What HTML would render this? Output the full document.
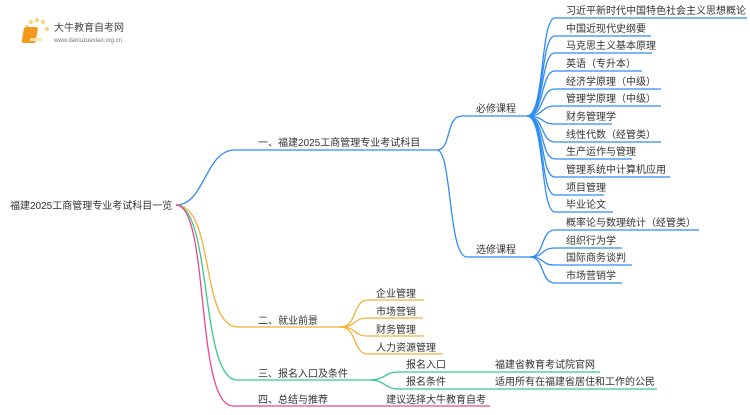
<!DOCTYPE html>
<html><head><meta charset="utf-8"><style>
body{margin:0;background:#fff;width:750px;height:410px;overflow:hidden}
svg text{font-family:"Liberation Sans","Noto Sans CJK SC",sans-serif;font-size:10px;fill:#333}
</style></head><body>
<svg width="750" height="410" viewBox="0 0 750 410" xmlns="http://www.w3.org/2000/svg">
<g>
<circle cx="27" cy="27" r="2" fill="#fbd27a"/><circle cx="31" cy="22" r="2" fill="#fbd27a"/><circle cx="37" cy="20" r="2" fill="#fbd27a"/><circle cx="43" cy="22" r="2" fill="#fbd27a"/><circle cx="24" cy="33" r="1.5" fill="#fbd27a"/><circle cx="47" cy="29" r="2" fill="#fbd27a"/>
<rect x="29" y="27" width="14" height="16" rx="2" fill="#f39a1e" transform="skewX(-10)"/>
<rect x="30" y="38" width="12" height="3" fill="#fde3b0"/>
<text x="54" y="31" style="font-size:10px;fill:#444">大牛教育自考网</text>
<text x="54" y="42" style="font-size:6px;fill:#777">www.daniuzuexiao.org.cn</text>
</g>
<g fill="none" stroke-width="1.3">
<g stroke="#2f8cf5">
<path d="M176,205 C205,205 205,150 235,150 L437,150"/>
<path d="M437,150 C452,150 445,116 462,116 L527,116"/>
<path d="M437,150 C452,150 448,257 467,257 L530,257"/>
<path d="M527,116 C545,116 540,18 555,18 L747,18"/>
<path d="M527,116 C545,116 540,36 555,36 L651,36"/>
<path d="M527,116 C545,116 540,53 555,53 L652,53"/>
<path d="M527,116 C545,116 540,71 555,71 L642,71"/>
<path d="M527,116 C545,116 540,89 555,89 L661,89"/>
<path d="M527,116 C545,116 540,106 555,106 L661,106"/>
<path d="M527,116 C545,116 540,124 555,124 L612,124"/>
<path d="M527,116 C545,116 540,142 555,142 L661,142"/>
<path d="M527,116 C545,116 540,159 555,159 L632,159"/>
<path d="M527,116 C545,116 540,177 555,177 L670,177"/>
<path d="M527,116 C545,116 540,195 555,195 L604,195"/>
<path d="M527,116 C545,116 540,212 555,212 L613,212"/>
<path d="M530,257 C545,257 540,230 555,230 L699,230"/>
<path d="M530,257 C545,257 540,248 555,248 L622,248"/>
<path d="M530,257 C545,257 540,265 555,265 L632,265"/>
<path d="M530,257 C545,257 540,283 555,283 L622,283"/>
</g>
<g stroke="#f5b03a">
<path d="M176,205 C215,205 200,327 238,327 L340,327"/>
<path d="M340,327 C358,327 352,300 368,300 L424,300"/>
<path d="M340,327 C358,327 352,318 368,318 L423,318"/>
<path d="M340,327 C358,327 352,336 368,336 L424,336"/>
<path d="M340,327 C358,327 352,354 368,354 L443,354"/>
</g>
<g stroke="#37c98a">
<path d="M176,205 C212,205 200,380 237,380 L370,380"/>
<path d="M370,380 C385,380 385,372 398,372 L600,372"/>
<path d="M370,380 C385,380 385,389 398,389 L657,389"/>
</g>
<g stroke="#f0458a">
<path d="M176,205 C210,205 195,406 233,406 L490,406"/>
</g>
</g>
<text x="10" y="209">福建2025工商管理专业考试科目一览</text>
<text x="258" y="146">一、福建2025工商管理专业考试科目</text>
<text x="476" y="112">必修课程</text>
<text x="476" y="253">选修课程</text>
<text x="566" y="14">习近平新时代中国特色社会主义思想概论</text>
<text x="566" y="32">中国近现代史纲要</text>
<text x="566" y="49">马克思主义基本原理</text>
<text x="566" y="67">英语（专升本）</text>
<text x="566" y="85">经济学原理（中级）</text>
<text x="566" y="102">管理学原理（中级）</text>
<text x="566" y="120">财务管理学</text>
<text x="566" y="138">线性代数（经管类）</text>
<text x="566" y="155">生产运作与管理</text>
<text x="566" y="173">管理系统中计算机应用</text>
<text x="566" y="191">项目管理</text>
<text x="566" y="208">毕业论文</text>
<text x="566" y="226">概率论与数理统计（经管类）</text>
<text x="566" y="244">组织行为学</text>
<text x="566" y="261">国际商务谈判</text>
<text x="566" y="279">市场营销学</text>
<text x="258" y="324">二、就业前景</text>
<text x="376" y="297">企业管理</text>
<text x="376" y="315">市场营销</text>
<text x="376" y="333">财务管理</text>
<text x="376" y="351">人力资源管理</text>
<text x="258" y="377">三、报名入口及条件</text>
<text x="406" y="368">报名入口</text>
<text x="406" y="385">报名条件</text>
<text x="495" y="368">福建省教育考试院官网</text>
<text x="495" y="385">适用所有在福建省居住和工作的公民</text>
<text x="258" y="403">四、总结与推荐</text>
<text x="386" y="403">建议选择大牛教育自考</text>
</svg>
</body></html>
